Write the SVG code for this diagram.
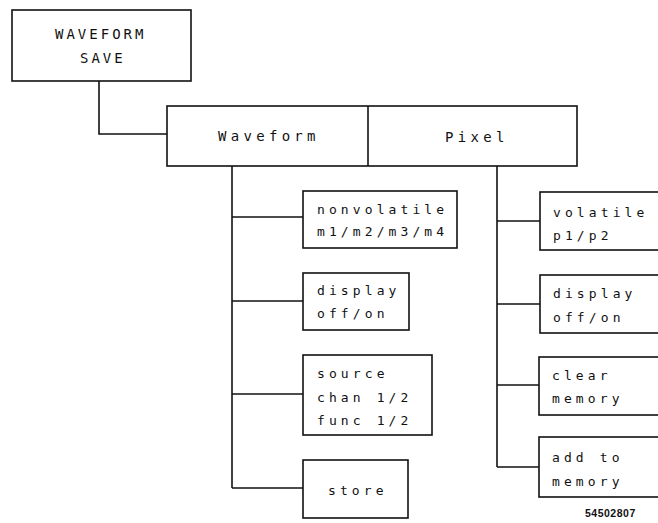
<svg xmlns="http://www.w3.org/2000/svg" width="658" height="523" viewBox="0 0 658 523">
<style>
.box{fill:#fff;stroke:#111;stroke-width:1.6}
.ln{fill:none;stroke:#111;stroke-width:1.6}
.t{font-family:"DejaVu Sans Mono","Liberation Mono",monospace;font-size:13px;letter-spacing:4.1px;fill:#111}
.cap{font-family:"DejaVu Sans Mono","Liberation Mono",monospace;font-size:14px;letter-spacing:3px;fill:#111}
.big{font-family:"DejaVu Sans Mono","Liberation Mono",monospace;font-size:14px;letter-spacing:4.3px;fill:#111}
.id{font-family:"Liberation Sans",Arial,sans-serif;font-size:10.5px;font-weight:bold;letter-spacing:0.5px;fill:#111}
</style>
<rect width="658" height="523" fill="#fff"/>
<g id="connectors">
<polyline class="ln" points="99,81 99,134 167,134"/>
<line class="ln" x1="232" y1="166" x2="232" y2="488"/>
<line class="ln" x1="232" y1="217" x2="303" y2="217"/>
<line class="ln" x1="232" y1="301" x2="303" y2="301"/>
<line class="ln" x1="232" y1="394" x2="303" y2="394"/>
<line class="ln" x1="232" y1="488" x2="303" y2="488"/>
<line class="ln" x1="497" y1="166" x2="497" y2="467"/>
<line class="ln" x1="497" y1="221" x2="540" y2="221"/>
<line class="ln" x1="497" y1="304" x2="540" y2="304"/>
<line class="ln" x1="497" y1="385" x2="540" y2="385"/>
<line class="ln" x1="497" y1="467" x2="540" y2="467"/>
</g>
<g id="waveform-save">
<rect class="box" x="12" y="10" width="179" height="71"/>
<text class="cap" x="55" y="39">WAVEFORM</text>
<text class="cap" x="80" y="63">SAVE</text>
</g>
<g id="menu">
<rect class="box" x="167" y="106" width="410" height="60"/>
<line class="ln" x1="368" y1="106" x2="368" y2="166"/>
<text class="big" x="218" y="141">Waveform</text>
<text class="big" x="445" y="142">Pixel</text>
</g>
<g id="nonvolatile">
<rect class="box" x="303" y="191" width="154" height="57"/>
<text class="t" x="317" y="214">nonvolatile</text>
<text class="t" x="317" y="236">m1/m2/m3/m4</text>
</g>
<g id="wf-display">
<rect class="box" x="303" y="273" width="106" height="57"/>
<text class="t" x="317" y="295">display</text>
<text class="t" x="317" y="318">off/on</text>
</g>
<g id="source">
<rect class="box" x="303" y="355" width="129" height="80"/>
<text class="t" x="317" y="378">source</text>
<text class="t" x="317" y="402">chan 1/2</text>
<text class="t" x="317" y="425">func 1/2</text>
</g>
<g id="store">
<rect class="box" x="303" y="460" width="105" height="58"/>
<text class="t" x="328" y="495">store</text>
</g>
<g id="volatile">
<rect class="box" x="540" y="192" width="130" height="58"/>
<text class="t" x="553" y="217">volatile</text>
<text class="t" x="553" y="240">p1/p2</text>
</g>
<g id="px-display">
<rect class="box" x="540" y="275" width="130" height="58"/>
<text class="t" x="553" y="298">display</text>
<text class="t" x="553" y="322">off/on</text>
</g>
<g id="clear">
<rect class="box" x="539" y="357" width="131" height="58"/>
<text class="t" x="552" y="380">clear</text>
<text class="t" x="552" y="403">memory</text>
</g>
<g id="add">
<rect class="box" x="539" y="437" width="131" height="60"/>
<text class="t" x="552" y="462">add to</text>
<text class="t" x="552" y="486">memory</text>
</g>
<text class="id" x="585" y="517">54502807</text>
</svg>
